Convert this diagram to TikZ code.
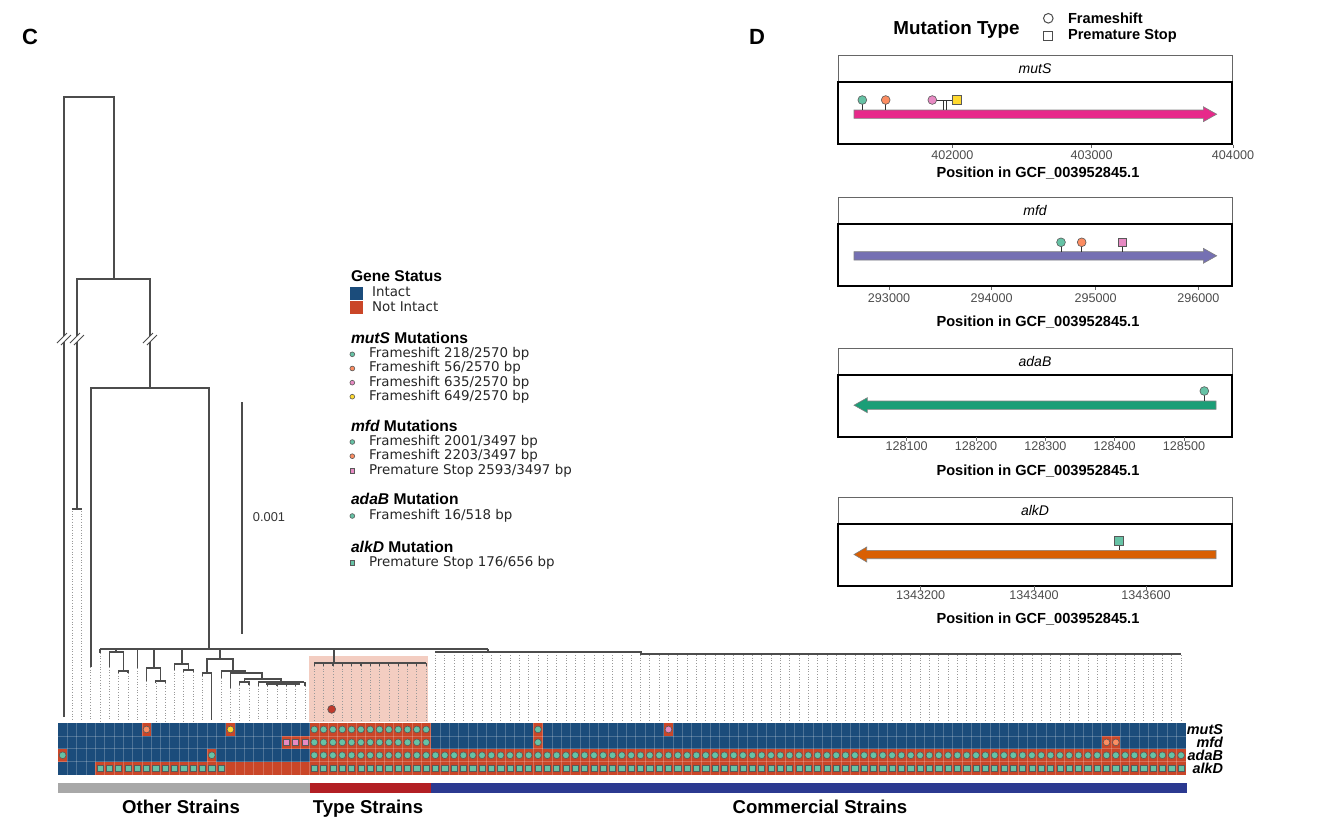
\documentclass[tikz,border=0pt]{standalone}
\usepackage{fontspec}
\setmainfont{Liberation Sans}
\newfontfamily\verd{DejaVu Sans}
\usetikzlibrary{positioning}

\definecolor{intact}{HTML}{1B4C7B}
\definecolor{notintact}{HTML}{CA4628}
\definecolor{sgreen}{HTML}{66C2A5}
\definecolor{sorange}{HTML}{FC8D62}
\definecolor{spink}{HTML}{E78AC3}
\definecolor{syellow}{HTML}{FFD92F}
\definecolor{dmag}{HTML}{E7298A}
\definecolor{dpurp}{HTML}{7570B3}
\definecolor{dteal}{HTML}{1B9E77}
\definecolor{dorange}{HTML}{D95F02}
\definecolor{bargray}{HTML}{A8A8A8}
\definecolor{barred}{HTML}{B21F24}
\definecolor{barblue}{HTML}{2B3990}
\definecolor{hilite}{HTML}{F3CDC1}
\definecolor{nodered}{HTML}{C0392B}

\newcommand{\fsz}[1]{\fontsize{#1}{#1}\selectfont}
\newcommand{\tx}[1]{62.66+9.32*#1}
\newcommand{\redcell}[2]{\fill[notintact] ({58+9.32*#1},{723+12.9*#2}) rectangle ++(9.32,12.9);}
\newcommand{\dotmk}[3]{\filldraw[#3,mk] ({\tx{#1}},{729.45+12.9*#2}) circle (1.7pt);}
\newcommand{\sqmk}[3]{\filldraw[#3,mk] ({\tx{#1}-3.1},{726.35+12.9*#2}) rectangle ++(6.2,6.2);}
\newcommand{\brk}[2]{\draw[white,line width=2pt] (#1-5,#2+5) -- (#1+5,#2-5);
  \draw[black!70,line width=.4pt] (#1-7,#2+4) -- (#1+3,#2-6) (#1-3,#2+6) -- (#1+7,#2-4);}
\newcommand{\gframe}[3]{%
  \draw[black!60,line width=.5pt,fill=white] (838,#1) rectangle (1232,#1+27);
  \node[strip] (#3) at (1035,#1+13.5) {#2};
  \draw[black,line width=1pt] (838,#1+27) rectangle (1232,#1+89);}

\begin{document}
\begin{tikzpicture}[x=0.5pt,y=-0.5pt,
  tree/.style={draw=black!70,line width=0.6pt},
  tipline/.style={draw=gray!80,densely dotted,line width=0.35pt},
  mk/.style={draw=black!65,line width=0.3pt},
  grp/.style={anchor=base,font=\bfseries\fsz{9.3}},
  rowlab/.style={anchor=east,font=\bfseries\itshape\fsz{7.2}},
  legh/.style={anchor=west,font=\bfseries\fsz{7.8}},
  legi/.style={anchor=west,font=\verd\fsz{6.7},text=black!85},
  tick/.style={font=\fsz{6.3},text=black!70},
  ptitle/.style={font=\bfseries\fsz{7.3}},
  strip/.style={font=\itshape\fsz{7}}]

\useasboundingbox (0,0) rectangle (1335,830);

\node[font=\bfseries\fsz{11}] (pc) at (30,37) {C};
\node[font=\bfseries\fsz{11}] (pd) at (757,37) {D};

% tree
\fill[hilite] (309,656) rectangle (427.5,722);
\draw[tree] (64,717) -- (64,97) -- (114,97) -- (114,279);
\draw[tree] (77,509) -- (77,279) -- (150,279) -- (150,388);
\draw[tree] (72,509) -- (82,509);
\draw[tree] (91,667) -- (91,388) -- (209,388) -- (209,649);
\brk{64}{339} \brk{77}{339} \brk{150}{339}
\draw[tree] (100,649) -- (488,649);
\draw[tree] ({\tx{4}},649) -- ({\tx{4}},653);
\draw[tree] (116,649) -- (116,652);
\draw[tree] ({\tx{5}},667) -- ({\tx{5}},652) -- (123.3,652) -- (123.3,671);
\draw[tree] ({\tx{6}},673) -- ({\tx{6}},671) -- ({\tx{7}},671) -- ({\tx{7}},673);
\draw[tree] ({\tx{8}},649) -- ({\tx{8}},668);
\draw[tree] (154,649) -- (154,668);
\draw[tree] ({\tx{9}},681) -- ({\tx{9}},668) -- (160.5,668) -- (160.5,681);
\draw[tree] ({\tx{10}},683) -- ({\tx{10}},681) -- ({\tx{11}},681) -- ({\tx{11}},683);
\draw[tree] (182,649) -- (182,664);
\draw[tree] ({\tx{12}},670) -- ({\tx{12}},664) -- (188.5,664) -- (188.5,670);
\draw[tree] ({\tx{13}},672) -- ({\tx{13}},670) -- ({\tx{14}},670) -- ({\tx{14}},672);
\draw[tree] (220,649) -- (220,659);
\draw[tree] (207,673) -- (207,659) -- (233,659) -- (233,671);
\draw[tree] ({\tx{15}},676) -- ({\tx{15}},673) -- ({\tx{16}},673) -- ({\tx{16}},720);
\draw[tree] ({\tx{17}},678) -- ({\tx{17}},671) -- (245,671) -- (245,673);
\draw[tree] ({\tx{18}},688) -- ({\tx{18}},673) -- (262,673) -- (262,679);
\draw[tree] (244.4,682) -- (244.4,679) -- (281,679) -- (281,682);
\draw[tree] ({\tx{19}},685) -- ({\tx{19}},682) -- ({\tx{20}},682) -- ({\tx{20}},685);
\draw[tree] (258.4,682) -- (304,682);
\draw[tree] (266,684) -- (300,684);
\foreach \c in {21,...,26} {
  \draw[tree] ({\tx{\c}},682) -- ({\tx{\c}},686);}
\draw[tree] (334,649) -- (334,663);
\draw[tree] ({\tx{27}},663) -- ({\tx{39}},663);
\foreach \c in {27,...,39} {
  \draw[tree] ({\tx{\c}},663) -- ({\tx{\c}},666);}
\draw[tree] (488,649) -- (488,652) -- (641,652) -- (641,654) -- ({\tx{120}},654);
\draw[tree] ({\tx{40}},652) -- (488,652);
\foreach \c/\y in {1/511,2/511,3/667,4/653,5/667,6/673,7/673,8/668,9/681,10/683,11/683,
    12/670,13/672,14/672,15/676,17/678,18/688,19/685,20/685,21/686,22/686,23/686,
    24/686,25/686,26/686} {
  \draw[tipline] ({\tx{\c}},\y) -- ({\tx{\c}},721);}
\foreach \c in {27,...,39} {
  \draw[tipline] ({\tx{\c}},666) -- ({\tx{\c}},721);}
\foreach \c in {40,...,120} {
  \draw[tipline] ({\tx{\c}},655) -- ({\tx{\c}},721);}
\filldraw[nodered,mk] (331.7,709.3) circle (2pt);

% scale
\draw[black!70,line width=.6pt] (242,402) -- (242,634);
\node[font=\fsz{6.4},text=black!80] (sc) at (269,517) {0.001};

% heatmap
\fill[intact] (58,723) rectangle (1185.7,774.6);
\redcell{9}{0} \redcell{18}{0} \redcell{51}{0} \redcell{65}{0}
\foreach \c in {27,...,39} {\redcell{\c}{0} \redcell{\c}{1}}
\foreach \c in {24,25,26,51,112,113} {\redcell{\c}{1}}
\redcell{0}{2} \redcell{16}{2}
\foreach \c in {27,...,120} {\redcell{\c}{2} \redcell{\c}{3}}
\foreach \c in {4,...,26} {\redcell{\c}{3}}
\foreach \c in {1,...,120} {
  \draw[white,opacity=.22,line width=.35pt] ({58+9.32*\c},723) -- ({58+9.32*\c},774.6);}
\foreach \r in {1,2,3} {
  \draw[white,opacity=.22,line width=.35pt] (58,{723+12.9*\r}) -- (1185.7,{723+12.9*\r});}
\dotmk{9}{0}{sorange} \dotmk{18}{0}{syellow} \dotmk{51}{0}{sgreen} \dotmk{65}{0}{spink}
\foreach \c in {27,...,39} {\dotmk{\c}{0}{sgreen} \dotmk{\c}{1}{sgreen}}
\foreach \c in {24,25,26} {\sqmk{\c}{1}{spink}}
\dotmk{51}{1}{sgreen} \dotmk{112}{1}{sorange} \dotmk{113}{1}{sorange}
\dotmk{0}{2}{sgreen} \dotmk{16}{2}{sgreen}
\foreach \c in {27,...,120} {\dotmk{\c}{2}{sgreen} \sqmk{\c}{3}{sgreen}}
\foreach \c in {4,...,17} {\sqmk{\c}{3}{sgreen}}

\node[rowlab] (rmuts) at (1230,730) {mutS};
\node[rowlab] (rmfd) at (1230,742.5) {mfd};
\node[rowlab] (radab) at (1230,755.5) {adaB};
\node[rowlab] (ralkd) at (1230,768) {alkD};

\fill[bargray] (58,783) rectangle (309.6,793);
\fill[barred] (309.6,783) rectangle (430.8,793);
\fill[barblue] (430.8,783) rectangle (1187,793);
\node[grp] (other) at (181,813.5) {Other Strains};
\node[grp] (type) at (368,813.5) {Type Strains};
\node[grp] (comm) at (820,813.5) {Commercial Strains};

% legend
\node[legh] (gs) at (344,276) {Gene Status};
\fill[intact] (350,286.5) rectangle (363,299.5);
\fill[notintact] (350,300.5) rectangle (363,313.5);
\node[legi] (li) at (365,292) {Intact};
\node[legi] (ln) at (365,306.5) {Not Intact};
\node[legh] (hm) at (344,338) {\itshape mutS\upshape\ Mutations};
\filldraw[sgreen,mk] (352.3,354.3) circle (1.2pt);
\filldraw[sorange,mk] (352.3,368.5) circle (1.2pt);
\filldraw[spink,mk] (352.3,382.7) circle (1.2pt);
\filldraw[syellow,mk] (352.3,396.7) circle (1.2pt);
\node[legi] (m1) at (362,354) {Frameshift 218/2570 bp};
\node[legi] (m2) at (362,368.3) {Frameshift 56/2570 bp};
\node[legi] (m3) at (362,382.5) {Frameshift 635/2570 bp};
\node[legi] (m4) at (362,396.5) {Frameshift 649/2570 bp};
\node[legh] (hf) at (344,425.7) {\itshape mfd\upshape\ Mutations};
\filldraw[sgreen,mk] (352.3,442) circle (1.2pt);
\filldraw[sorange,mk] (352.3,456.2) circle (1.2pt);
\filldraw[spink,mk] (350,468.4) rectangle (354.6,473);
\node[legi] (f1) at (362,441.8) {Frameshift 2001/3497 bp};
\node[legi] (f2) at (362,456) {Frameshift 2203/3497 bp};
\node[legi] (f3) at (362,470.5) {Premature Stop 2593/3497 bp};
\node[legh] (ha) at (344,499.3) {\itshape adaB\upshape\ Mutation};
\filldraw[sgreen,mk] (352.3,516) circle (1.2pt);
\node[legi] (a1) at (362,515.8) {Frameshift 16/518 bp};
\node[legh] (hk) at (344,546.7) {\itshape alkD\upshape\ Mutation};
\filldraw[sgreen,mk] (350,560.4) rectangle (354.6,565);
\node[legi] (k1) at (362,562.5) {Premature Stop 176/656 bp};

% gene panels
\node[font=\bfseries\fsz{9.4}] (mt) at (956.5,30) {Mutation Type};
\draw[black!70,line width=.5pt] (1048.3,18.3) circle (2.4pt);
\draw[black!70,line width=.5pt] (1043.8,31.5) rectangle (1052.8,40.5);
\node[anchor=west,font=\bfseries\fsz{7.3}] (fs) at (1061,18) {Frameshift};
\node[anchor=west,font=\bfseries\fsz{7.3}] (ps) at (1061,36) {Premature Stop};

\gframe{55}{mutS}{smuts}
\filldraw[dmag,draw=black!50,line width=.3pt] (854,110) -- (1203.3,110) -- (1203.3,106.7)
  -- (1216.7,114.2) -- (1203.3,121.7) -- (1203.3,118.4) -- (854,118.4) -- cycle;
\draw[black!80,line width=.4pt] (862.3,100) -- (862.3,110) (885.7,100) -- (885.7,110)
  (943.5,100) -- (943.5,110) (946.5,100) -- (946.5,110) (932.3,100) -- (956.7,100);
\filldraw[sgreen,mk] (862.3,100) circle (2.2pt);
\filldraw[sorange,mk] (885.7,100) circle (2.2pt);
\filldraw[spink,mk] (932.3,100) circle (2.2pt);
\filldraw[syellow,mk] (952.3,95.6) rectangle (961.1,104.4);
\foreach \x/\t in {952.3/402000,1091.7/403000,1233/404000} {
  \draw[black!60,line width=.4pt] (\x,144.5) -- (\x,148);
  \node[tick] (a\t) at (\x,155.5) {\t};}
\node[ptitle] (xa) at (1038,173.3) {Position in GCF\_003952845.1};

\gframe{197.3}{mfd}{smfd}
\filldraw[dpurp,draw=black!50,line width=.3pt] (854,251.7) -- (1203.3,251.7) -- (1203.3,248.3)
  -- (1216.7,255.8) -- (1203.3,263.3) -- (1203.3,260) -- (854,260) -- cycle;
\draw[black!80,line width=.4pt] (1061,242.3) -- (1061,251.7) (1081.7,242.3) -- (1081.7,251.7)
  (1122.3,242.3) -- (1122.3,251.7);
\filldraw[sgreen,mk] (1061,242.3) circle (2.2pt);
\filldraw[sorange,mk] (1081.7,242.3) circle (2.2pt);
\filldraw[spink,mk] (1117.9,237.9) rectangle (1126.7,246.7);
\foreach \x/\t in {889/293000,991.7/294000,1095.7/295000,1198.3/296000} {
  \draw[black!60,line width=.4pt] (\x,286.8) -- (\x,290.3);
  \node[tick] (b\t) at (\x,297.8) {\t};}
\node[ptitle] (xb) at (1038,322.3) {Position in GCF\_003952845.1};

\gframe{348.3}{adaB}{sadab}
\filldraw[dteal,draw=black!50,line width=.3pt] (1216,401) -- (867.3,401) -- (867.3,397.7)
  -- (854,405.2) -- (867.3,412.7) -- (867.3,409.4) -- (1216,409.4) -- cycle;
\draw[black!80,line width=.4pt] (1204.3,391) -- (1204.3,401);
\filldraw[sgreen,mk] (1204.3,391) circle (2.2pt);
\foreach \x/\t in {906.7/128100,976/128200,1045.3/128300,1114.7/128400,1184/128500} {
  \draw[black!60,line width=.4pt] (\x,437.3) -- (\x,440.8);
  \node[tick] (c\t) at (\x,446.5) {\t};}
\node[ptitle] (xc) at (1038,470.7) {Position in GCF\_003952845.1};

\gframe{497.3}{alkD}{salkd}
\filldraw[dorange,draw=black!50,line width=.3pt] (1216,550.3) -- (866.7,550.3) -- (866.7,547)
  -- (854,554.5) -- (866.7,562) -- (866.7,558.7) -- (1216,558.7) -- cycle;
\draw[black!80,line width=.4pt] (1119,540.7) -- (1119,550.3);
\filldraw[sgreen,mk] (1114.6,536.3) rectangle (1123.4,545.1);
\foreach \x/\t in {920.7/1343200,1034/1343400,1146/1343600} {
  \draw[black!60,line width=.4pt] (\x,586.3) -- (\x,589.8);
  \node[tick] (d\t) at (\x,595.5) {\t};}
\node[ptitle] (xd) at (1038,619.3) {Position in GCF\_003952845.1};
\end{tikzpicture}
\end{document}
